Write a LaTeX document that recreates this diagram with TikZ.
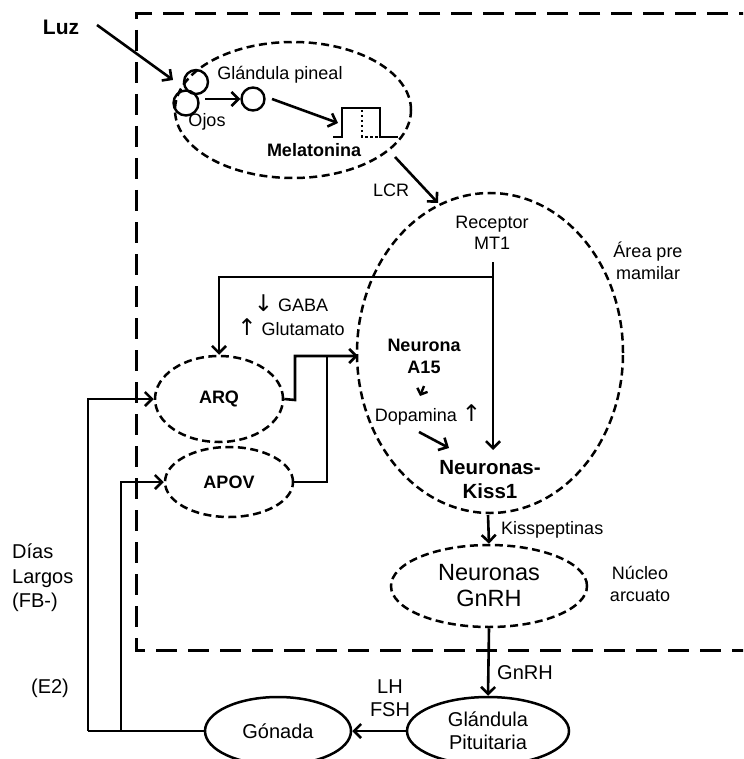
\documentclass[tikz,border=0pt]{standalone}
\usepackage{fontspec}
\setmainfont{Liberation Sans}
\newfontfamily\symf{DejaVu Sans}
\usetikzlibrary{arrows.meta,shapes.geometric}
\tikzset{
  ln/.style={line width=2.6pt},
  arr/.style={line width=2.6pt,-{Straight Barb[length=7pt,width=14pt,line width=2.6pt]}},
  dashell/.style={draw,ellipse,line width=2.5pt,dash pattern=on 8pt off 4.5pt,inner sep=0pt},
  solell/.style={draw,ellipse,line width=2.5pt,inner sep=0pt},
  circ/.style={draw,circle,line width=2.4pt,inner sep=0pt},
  outerdash/.style={line width=3pt,dash pattern=on 21pt off 11pt},
  t18/.style={inner sep=0pt,align=center,font=\fontsize{18}{21.5}\selectfont},
  b18/.style={inner sep=0pt,align=center,font=\bfseries\fontsize{18}{22}\selectfont},
  b20/.style={inner sep=0pt,align=center,font=\bfseries\fontsize{20.5}{24}\selectfont},
  t20/.style={inner sep=0pt,align=center,font=\fontsize{20}{23}\selectfont},
}
\newcommand\arsym[1]{{\symf\fontsize{23}{20}\selectfont #1}}
\begin{document}
\begin{tikzpicture}[x=1pt,y=-1pt]
\useasboundingbox (0,0) rectangle (743,759);
\clip (0,0) rectangle (743,759);
% outer dashed frame
\draw[outerdash] (760,14) -- (136,14) -- (136,650) -- (760,650);
% pineal ellipse
\node[dashell,minimum width=236pt,minimum height=136pt] (pin) at (293,110) {};
\node[circ,minimum size=24pt] (eye1) at (196,82) {};
\node[circ,minimum size=25pt] (eye2) at (186,103) {};
\node[circ,minimum size=23pt] (pc) at (253,99) {};
\coordinate (eo) at (205,99);
\draw[arr] (eo) -- (pc.west);
\node[t18] (gp) at (280,75) {Glándula pineal};
\node[t18] (ojos) at (207,122) {Ojos};
\coordinate (wv) at (338,123);
\coordinate (pcs) at (272,99);
\draw[arr] (pcs) -- (wv);
\draw[ln] (333,137) -- (342,137) -- (342,108) -- (380,108) -- (380,137) -- (398,137);
\draw[line width=2.4pt,dash pattern=on 2.5pt off 2.5pt] (362,110) -- (362,137) -- (378,137);
\node[b18] (mel) at (314,150) {Melatonina};
% Luz
\node[inner sep=0pt,font=\bfseries\fontsize{21}{24}\selectfont] (luz) at (61,27) {Luz};
\coordinate (luzs) at (97,25);
\coordinate (luze) at (173,80);
\draw[arr] (luzs) -- (luze);
% LCR
\coordinate (lcrs) at (395,157);
\coordinate (lcre) at (438,203);
\draw[arr] (lcrs) -- (lcre);
\node[t18] (lcr) at (391,190) {LCR};
% big ellipse
\node[dashell,minimum width=266pt,minimum height=320pt] (pm) at (490,353) {};
\node[t18] (rec) at (492,233) {Receptor\\MT1};
\node[t18] (area) at (648,261) {Área pre\\mamilar};
\node[b18] (a15) at (424,356) {Neurona\\A15};
\node[t18] (dop) at (428,415) {Dopamina \arsym{↑}};
\node[b20] (kiss) at (490,480) {Neuronas-\\Kiss1};
\coordinate (a15s) at (424,386);
\coordinate (a15e) at (420,396);
\draw[line width=2.4pt,-{Straight Barb[length=5pt,width=11pt,line width=2.4pt]}] (a15s) -- (a15e);
\coordinate (dops) at (419,432);
\coordinate (dope) at (449,448);
\draw[arr] (dops) -- (dope);
% MT1 lines
\coordinate (mt) at (493,262);
\coordinate (kt) at (493,450);
\coordinate (bend) at (493,277);
\draw[arr] (mt) -- (kt);
% ARQ & APOV
\node[dashell,minimum width=128pt,minimum height=86pt,font=\bfseries\fontsize{18}{21}\selectfont] (arq) at (219,399) {ARQ};
\node[dashell,minimum width=128pt,minimum height=70pt,font=\bfseries\fontsize{18}{21}\selectfont] (apov) at (229,482) {APOV};
\draw[arr] (bend) -| (arq.north);
\node[t18,font=\fontsize{18}{24}\selectfont] (gaba) at (291,315) {\arsym{↓} GABA\\\arsym{↑} Glutamato};
\coordinate (jn) at (358,356);
\draw[arr] (arq.east) -- (295,400) |- (jn);
\draw[ln] (apov.east) -| (327,356);
% lower part
\node[dashell,minimum width=196pt,minimum height=82pt,font=\fontsize{23.5}{26}\selectfont,align=center] (gnrh) at (489,586) {Neuronas\\GnRH};
\coordinate (kss) at (488,515);
\draw[arr] (kss) -- (gnrh.north);
\node[t18,anchor=west] (kp) at (501,530) {Kisspeptinas};
\node[t18] (nuc) at (640,584) {Núcleo\\arcuato};
\node[solell,minimum width=162pt,minimum height=68pt,font=\fontsize{20}{23}\selectfont,align=center] (pit) at (488,731) {Glándula\\Pituitaria};
\draw[arr] (gnrh.south) -- (pit.north);
\node[t20,anchor=west] (gl) at (497,673) {GnRH};
\node[solell,minimum width=146pt,minimum height=68pt,font=\fontsize{20}{23}\selectfont] (gon) at (278,731) {Gónada};
\draw[arr] (pit.west) -- (gon.east);
\node[t20] (lhfsh) at (390,698) {LH\\FSH};
\coordinate (fo) at (88,731);
\coordinate (fi) at (121,731);
\draw[ln] (gon.west) -- (fo);
\draw[arr] (fo) |- (arq.west);
\draw[arr] (fi) |- (apov.west);
\node[t20,anchor=west,align=left,font=\fontsize{20}{24.5}\selectfont] (dias) at (12,578) {Días\\Largos\\(FB-)};
\node[t20] (e2) at (50,688) {(E2)};
\end{tikzpicture}
\end{document}
